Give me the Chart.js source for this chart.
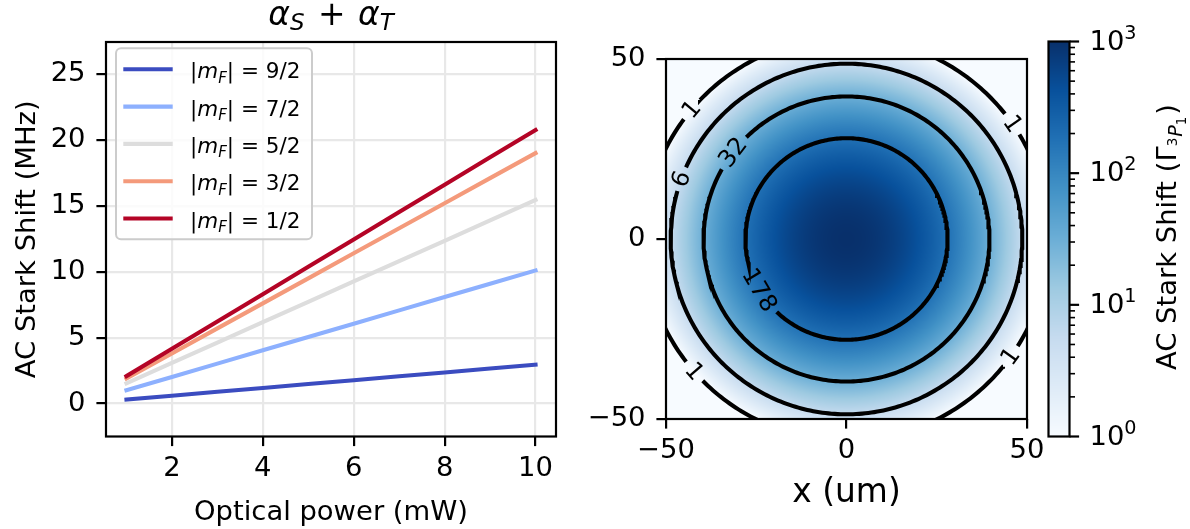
<!DOCTYPE html>
<html><head><meta charset="utf-8">
<script src="https://cdn.jsdelivr.net/npm/chart.js@4.4.1/dist/chart.umd.min.js"></script>
<style>
html,body{margin:0;padding:0;background:#fff;}
#wrap{position:relative;width:1190px;height:529px;background:#fff;}
#wrap canvas{position:absolute;left:0;top:0;}
</style></head>
<body><div id="wrap">
<canvas id="c1" width="1190" height="529"></canvas>
<canvas id="c2" width="1190" height="529"></canvas>
<canvas id="c3" width="1190" height="529"></canvas>
</div>
<script>
// ---------------- DATA ----------------
const powerMW = [1,2,3,4,5,6,7,8,9,10];
const seriesLabels = ['9/2','7/2','5/2','3/2','1/2'];
const shiftMF92 = [0.30,0.59,0.89,1.18,1.48,1.77,2.07,2.36,2.66,2.95];
const shiftMF72 = [1.01,2.02,3.03,4.04,5.05,6.06,7.07,8.08,9.09,10.10];
const shiftMF52 = [1.54,3.09,4.63,6.18,7.72,9.26,10.81,12.35,13.90,15.44];
const shiftMF32 = [1.90,3.80,5.70,7.60,9.50,11.40,13.30,15.20,17.10,19.00];
const shiftMF12 = [2.08,4.15,6.23,8.30,10.38,12.45,14.53,16.60,18.68,20.75];
const seriesColors = ['#3b4cc0','#8db0fe','#dddddd','#f49a7b','#b40426'];
const xTicksPower = [2,4,6,8,10];
const xTickLabelsPower = ['2','4','6','8','10'];
const yTicksShift = [0,5,10,15,20,25];
const yTickLabelsShift = ['0','5','10','15','20','25'];

const hmTicks = [-50,0,50];
const hmTickLabels = ['\u221250','0','50'];
// radial profile of the trap (radius in um -> AC Stark shift in units of Gamma)
const profileRadius = [0, 28.0, 39.6, 48.7, 56.0];
const profileShift  = [1000, 177.8, 31.6, 5.62, 1.0];
const contourLevels = [1.0, 5.62, 31.6, 177.8];
const contourLabels = ['1','6','32','178'];
const contourRadius = [56.0, 48.7, 39.6, 28.0];
const cbDecades = [1,10,100,1000];
const cbExponents = ['0','1','2','3'];

// ---------------- LAYOUT / STYLE ----------------
const FAM = '"DejaVu Sans"';
const TICK = 27.4;
const LW = 2.2;
const seriesData = [shiftMF92, shiftMF72, shiftMF52, shiftMF32, shiftMF12];
const contourLabelAt = [[0,140.0],[0,34.8],[0,221.1],[0,324.3],[1,160.0],[2,142.6],[3,210.5]];
const hmPxPerUnit = 361/100;
const labelFontPx = 24;

function fnt(p){ return (p.it?'italic ':'') + p.s + 'px ' + FAM; }
function richWidth(ctx, parts){ let w=0; for(const p of parts){ ctx.font=fnt(p); w+=ctx.measureText(p.t).width+(p.k||0);} return w; }
function drawRich(ctx, parts, x, y, align){
  const w = richWidth(ctx, parts);
  let cx = align==='center' ? x-w/2 : (align==='right' ? x-w : x);
  ctx.textAlign='left'; ctx.textBaseline='alphabetic';
  for(const p of parts){ ctx.font=fnt(p); ctx.fillText(p.t, cx, y+(p.dy||0)); cx += ctx.measureText(p.t).width+(p.k||0); }
}
function spines(chart){
  const a=chart.chartArea, ctx=chart.ctx;
  ctx.save(); ctx.strokeStyle='#000'; ctx.lineWidth=LW; ctx.lineJoin='miter';
  ctx.strokeRect(a.left, a.top, a.right-a.left, a.bottom-a.top); ctx.restore();
}
const BLUES=[[247,251,255],[222,235,247],[198,219,239],[158,202,225],[107,174,214],[66,146,198],[33,113,181],[8,81,156],[8,48,107]];
function blues(t){ t=Math.min(1,Math.max(0,t)); const f=t*8; const i=Math.min(7,Math.floor(f)); const u=f-i; const a=BLUES[i], b=BLUES[i+1];
  return [a[0]+(b[0]-a[0])*u, a[1]+(b[1]-a[1])*u, a[2]+(b[2]-a[2])*u]; }
const cbLogMin = Math.log10(cbDecades[0]), cbLogMax = Math.log10(cbDecades[cbDecades.length-1]);
const profR2 = profileRadius.map(r=>r*r), profL = profileShift.map(v=>Math.log10(v));
function logShiftAt(r){
  const r2=r*r; let i=0;
  while(i<profR2.length-2 && r2>profR2[i+1]) i++;
  const t=(r2-profR2[i])/(profR2[i+1]-profR2[i]);
  return profL[i]+t*(profL[i+1]-profL[i]);
}
function tickFont(){ return {family:FAM, size:TICK, lineHeight:1}; }

// ---------------- LEFT CHART ----------------
const leftPlugin = {
  id:'leftDeco',
  afterDatasetsDraw(chart){ spines(chart); },
  afterDraw(chart){
    const ctx=chart.ctx, a=chart.chartArea;
    ctx.save(); ctx.fillStyle='#000';
    const cx=(a.left+a.right)/2;
    drawRich(ctx,[{t:'\u03b1',it:1,s:32.9},{t:'S',it:1,s:23,dy:5,k:3},{t:' + ',s:32.9,k:2},{t:'\u03b1',it:1,s:32.9},{t:'T',it:1,s:23,dy:5}], cx, 25, 'center');
    drawRich(ctx,[{t:'Optical power (mW)',s:TICK}], cx, 519.5, 'center');
    ctx.save(); ctx.translate(34.5,(a.top+a.bottom)/2); ctx.rotate(-Math.PI/2);
    drawRich(ctx,[{t:'AC Stark Shift (MHz)',s:TICK}],0,0,'center'); ctx.restore();
    // legend
    const lx=116, ly=48.3, lw=196, lh=191, rr=5;
    ctx.beginPath(); ctx.roundRect(lx,ly,lw,lh,rr);
    ctx.fillStyle='rgba(255,255,255,0.8)'; ctx.fill();
    ctx.strokeStyle='#cccccc'; ctx.lineWidth=2; ctx.stroke();
    const ds=chart.data.datasets;
    for(let k=0;k<ds.length;k++){
      const y=69.3+k*37.3;
      ctx.beginPath(); ctx.moveTo(123.3,y); ctx.lineTo(172.7,y);
      ctx.strokeStyle=ds[k].borderColor; ctx.lineWidth=4.1; ctx.lineCap='butt'; ctx.stroke();
      ctx.fillStyle='#000';
      drawRich(ctx,[{t:'|',s:21.5},{t:'m',it:1,s:21.5},{t:'F',it:1,s:15,dy:4.3},{t:'|',s:21.5},{t:' = ',s:21.5},{t:seriesLabels[k],s:21.5}],190,y+9,'left');
    }
    ctx.restore();
  }
};
new Chart(document.getElementById('c1'),{
  type:'line',
  data:{datasets: seriesData.map((arr,i)=>({
    label:'|mF| = '+seriesLabels[i],
    data: powerMW.map((p,j)=>({x:p,y:arr[j]})),
    borderColor: seriesColors[i], backgroundColor: seriesColors[i],
    borderWidth:4.1, pointRadius:0, tension:0, fill:false, borderCapStyle:'square', borderJoinStyle:'round',
    order: seriesData.length-i
  }))},
  options:{
    responsive:false, animation:false, devicePixelRatio:1, events:[],
    layout:{padding:{left:0,top:42,right:634,bottom:0}},
    plugins:{legend:{display:false},tooltip:{enabled:false},title:{display:false}},
    scales:{
      x:{type:'linear',min:0.55,max:10.45,
        afterFit(s){s.height=92.5;},
        afterBuildTicks(s){s.ticks=xTicksPower.map(v=>({value:v}));},
        ticks:{font:tickFont(),color:'#000',padding:8.8,maxRotation:0,autoSkip:false,
          callback:(v)=>xTickLabelsPower[xTicksPower.indexOf(v)]},
        grid:{color:'#e8e8e8',lineWidth:LW,tickColor:'#000',tickWidth:LW,tickLength:9.6},
        border:{display:false}},
      y:{type:'linear',min:-2.5,max:27.43,
        afterFit(s){s.width=106;},
        afterBuildTicks(s){s.ticks=yTicksShift.map(v=>({value:v}));},
        ticks:{font:tickFont(),color:'#000',padding:10.9,autoSkip:false,
          callback:(v)=>yTickLabelsShift[yTicksShift.indexOf(v)]},
        grid:{color:'#e8e8e8',lineWidth:LW,tickColor:'#000',tickWidth:LW,tickLength:9.6},
        border:{display:false}}
    }
  },
  plugins:[leftPlugin]
});

// ---------------- HEATMAP ----------------
const measCtx = document.createElement('canvas').getContext('2d');
measCtx.font = labelFontPx+'px '+FAM;
const gapsByLevel = contourRadius.map(()=>[]);
contourLabelAt.forEach(([li,ang])=>{
  const w = measCtx.measureText(contourLabels[li]).width;
  const halfPx = w/2 + 5;
  const halfDeg = halfPx/(contourRadius[li]*hmPxPerUnit)*180/Math.PI;
  gapsByLevel[li].push({ang, half:halfDeg});
});
const contourSets=[];
contourRadius.forEach((R,li)=>{
  const gaps = gapsByLevel[li].slice().sort((a,b)=>a.ang-b.ang);
  const arcs=[];
  if(!gaps.length) arcs.push([0,360]);
  for(let g=0; g<gaps.length; g++){
    const s = gaps[g].ang+gaps[g].half;
    let e = (g+1<gaps.length ? gaps[g+1].ang-gaps[g+1].half : gaps[0].ang-gaps[0].half+360);
    arcs.push([s,e]);
  }
  arcs.forEach(([s,e])=>{
    const pts=[];
    for(let a=s; a<e; a+=1){ pts.push({x:R*Math.cos(a*Math.PI/180), y:R*Math.sin(a*Math.PI/180)}); }
    pts.push({x:R*Math.cos(e*Math.PI/180), y:R*Math.sin(e*Math.PI/180)});
    contourSets.push({label:'level '+contourLevels[li], data:pts, showLine:true, borderColor:'#000', borderWidth:4.1,
      pointRadius:0, tension:0, fill:false, clip:0, borderCapStyle:'butt'});
  });
});
const hmPlugin={
  id:'hmDeco',
  beforeDatasetsDraw(chart){
    const a=chart.chartArea, xs=chart.scales.x, ys=chart.scales.y;
    const x0=Math.round(a.left), y0=Math.round(a.top), w=Math.round(a.right)-x0, h=Math.round(a.bottom)-y0;
    const off=document.createElement('canvas'); off.width=w; off.height=h;
    const octx=off.getContext('2d'); const img=octx.createImageData(w,h);
    for(let j=0;j<h;j++){
      const yv=ys.getValueForPixel(y0+j+0.5);
      for(let i=0;i<w;i++){
        const xv=xs.getValueForPixel(x0+i+0.5);
        const lv=logShiftAt(Math.hypot(xv,yv));
        const c=blues((lv-cbLogMin)/(cbLogMax-cbLogMin));
        const k=(j*w+i)*4; img.data[k]=c[0]; img.data[k+1]=c[1]; img.data[k+2]=c[2]; img.data[k+3]=255;
      }
    }
    octx.putImageData(img,0,0);
    chart.ctx.drawImage(off,x0,y0);
  },
  afterDatasetsDraw(chart){
    const ctx=chart.ctx, xs=chart.scales.x, ys=chart.scales.y, a=chart.chartArea;
    ctx.save();
    ctx.beginPath(); ctx.rect(a.left,a.top,a.right-a.left,a.bottom-a.top); ctx.clip();
    ctx.fillStyle='#000'; ctx.font=labelFontPx+'px '+FAM; ctx.textAlign='center'; ctx.textBaseline='middle';
    contourLabelAt.forEach(([li,ang])=>{
      const R=contourRadius[li], rad=ang*Math.PI/180;
      const px=xs.getPixelForValue(R*Math.cos(rad)), py=ys.getPixelForValue(R*Math.sin(rad));
      let rot=ang+90; rot=((rot%360)+360)%360; if(rot>90&&rot<=270) rot-=180; if(rot>270) rot-=360;
      ctx.save(); ctx.translate(px,py); ctx.rotate(-rot*Math.PI/180);
      ctx.fillText(contourLabels[li],0,1); ctx.restore();
    });
    ctx.restore();
    spines(chart);
  },
  afterDraw(chart){
    const ctx=chart.ctx, a=chart.chartArea;
    ctx.save(); ctx.fillStyle='#000';
    drawRich(ctx,[{t:'x (um)',s:32.9}],(a.left+a.right)/2,501.7,'center');
    ctx.restore();
  }
};
new Chart(document.getElementById('c2'),{
  type:'scatter',
  data:{datasets:contourSets},
  options:{
    responsive:false, animation:false, devicePixelRatio:1, events:[],
    layout:{padding:{left:0,top:59,right:163,bottom:0}},
    plugins:{legend:{display:false},tooltip:{enabled:false}},
    scales:{
      x:{type:'linear',min:-50,max:50,
        afterFit(s){s.height=110;},
        afterBuildTicks(s){s.ticks=hmTicks.map(v=>({value:v}));},
        ticks:{font:tickFont(),color:'#000',padding:8.8,maxRotation:0,autoSkip:false,
          callback:(v)=>hmTickLabels[hmTicks.indexOf(v)]},
        grid:{drawOnChartArea:false,tickColor:'#000',tickWidth:LW,lineWidth:LW,tickLength:9.6},
        border:{display:false}},
      y:{type:'linear',min:-50,max:50,
        afterFit(s){s.width=666;},
        afterBuildTicks(s){s.ticks=hmTicks.map(v=>({value:v}));},
        ticks:{font:tickFont(),color:'#000',padding:10.9,autoSkip:false,
          callback:(v)=>hmTickLabels[hmTicks.indexOf(v)]},
        grid:{drawOnChartArea:false,tickColor:'#000',tickWidth:LW,lineWidth:LW,tickLength:9.6},
        border:{display:false}}
    }
  },
  plugins:[hmPlugin]
});

// ---------------- COLORBAR ----------------
const cbPlugin={
  id:'cbDeco',
  afterDraw(chart){
    const ctx=chart.ctx, a=chart.chartArea, ys=chart.scales.y;
    ctx.save();
    const t0=Math.floor(a.top), t1=Math.ceil(a.bottom);
    for(let y=t0;y<t1;y++){
      const v=ys.getValueForPixel(Math.min(a.bottom,Math.max(a.top,y+0.5)));
      const c=blues((Math.log10(v)-cbLogMin)/(cbLogMax-cbLogMin));
      ctx.fillStyle='rgb('+c.map(Math.round).join(',')+')';
      ctx.fillRect(a.left,y,a.right-a.left,1);
    }
    ctx.strokeStyle='#000'; ctx.lineWidth=LW;
    ctx.strokeRect(a.left,a.top,a.right-a.left,a.bottom-a.top);
    // minor ticks
    ctx.lineWidth=1.6;
    for(let d=0; d<cbDecades.length-1; d++){
      for(let m=2;m<=9;m++){
        const py=ys.getPixelForValue(cbDecades[d]*m);
        ctx.beginPath(); ctx.moveTo(a.right,py); ctx.lineTo(a.right+5.5,py); ctx.stroke();
      }
    }
    ctx.lineWidth=LW; ctx.fillStyle='#000';
    cbDecades.forEach((v,i)=>{
      const py=ys.getPixelForValue(v);
      ctx.beginPath(); ctx.moveTo(a.right,py); ctx.lineTo(a.right+9.6,py); ctx.stroke();
      drawRich(ctx,[{t:'10',s:TICK},{t:cbExponents[i],s:19.2,dy:-11}], a.right+9.6+10.4, py+8, 'left');
    });
    ctx.save(); ctx.translate(1176,(a.top+a.bottom)/2-2); ctx.rotate(-Math.PI/2);
    drawRich(ctx,[{t:'AC Stark Shift (',s:TICK},{t:'\u0393',s:TICK},{t:'3',s:13.4,dy:1,k:1},{t:'P',it:1,s:19.2,dy:6},{t:'1',s:13.4,dy:10,k:2},{t:')',s:TICK}],0,0,'center');
    ctx.restore();
    ctx.restore();
  }
};
new Chart(document.getElementById('c3'),{
  type:'scatter',
  data:{datasets:[]},
  options:{
    responsive:false, animation:false, devicePixelRatio:1, events:[],
    layout:{padding:{left:1048.5,top:41.5,right:120.5,bottom:92.5}},
    plugins:{legend:{display:false},tooltip:{enabled:false}},
    scales:{
      x:{type:'linear',min:0,max:1,display:false},
      y:{type:'logarithmic',min:cbDecades[0],max:cbDecades[cbDecades.length-1],display:false}
    }
  },
  plugins:[cbPlugin]
});
</script>
</body></html>
